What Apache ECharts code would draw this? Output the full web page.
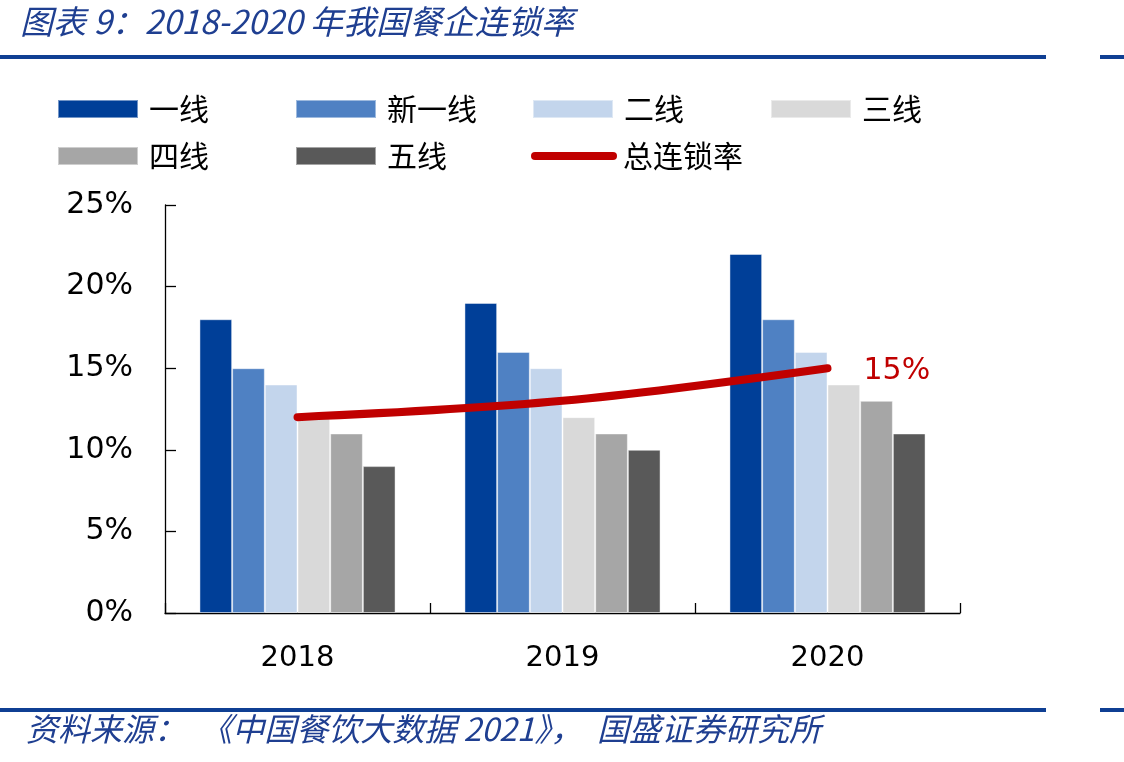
<!DOCTYPE html>
<html>
<head>
<meta charset="utf-8">
<script src="https://cdn.jsdelivr.net/npm/echarts@6/dist/echarts.min.js"></script>
<style>html,body{margin:0;padding:0;background:#fff;}#c{width:1124px;height:762px;}</style>
</head>
<body>
<div id="c"></div>
<script>
const categories = ['2018', '2019', '2020'];
const seriesNames = ['一线', '新一线', '二线', '三线', '四线', '五线'];
const tier1 = [18, 19, 22];
const newTier1 = [15, 16, 18];
const tier2 = [14, 15, 16];
const tier3 = [12, 12, 14];
const tier4 = [11, 11, 13];
const tier5 = [9, 10, 11];
const lineName = '总连锁率';
const chainRate = [12, 13, 15];
const yTicks = [0, 5, 10, 15, 20, 25];

const barColors = ['#003f98', '#4f81c3', '#c3d5ec', '#d9d9d9', '#a6a6a6', '#595959'];
const barData = [tier1, newTier1, tier2, tier3, tier4, tier5];
const lineColor = '#c00000';
const cjk = '"Noto Sans CJK SC", sans-serif';
const num = '"DejaVu Sans", sans-serif';

const chart = echarts.init(document.getElementById('c'), null, {renderer: 'canvas'});

const legendPos = [
  [57, 94], [295, 94], [532, 94], [770, 94],
  [57, 141], [295, 141]
];
const legends = seriesNames.map((n, i) => ({
  data: [n], left: legendPos[i][0], top: legendPos[i][1], padding: 0,
  itemWidth: 80, itemHeight: 18, icon: 'rect',
  textStyle: {fontFamily: cjk, fontSize: 30, lineHeight: 30, color: '#000', padding: [0, 0, 0, 6]}
}));
legends.push({
  data: [lineName], left: 531, top: 141, padding: 0,
  itemWidth: 86, itemHeight: 8,
  icon: 'path://M4,0 L82,0 A4,4 0 0 1 82,8 L4,8 A4,4 0 0 1 4,0 Z',
  textStyle: {fontFamily: cjk, fontSize: 30, lineHeight: 30, color: '#000', padding: [0, 0, 0, 1]}
});

const series = seriesNames.map((n, i) => ({
  name: n, type: 'bar', data: barData[i], barGap: '0%', barCategoryGap: '26%',
  itemStyle: {color: barColors[i], borderColor: 'rgba(255,255,255,0.45)', borderWidth: 1},
  z: 2
}));
series.push({
  name: lineName, type: 'line', data: chainRate,
  smooth: 0.35, symbol: 'none', color: lineColor,
  lineStyle: {color: lineColor, width: 8, cap: 'round', join: 'round'},
  endLabel: {show: true, distance: 36, offset: [0, 3], formatter: '{c}%', color: lineColor, fontFamily: num, fontSize: 30},
  z: 5
});

chart.setOption({
  animation: false,
  backgroundColor: '#fff',
  title: {
    text: '图表 9：2018-2020 年我国餐企连锁率', left: 20, top: 4, padding: 0,
    textStyle: {fontFamily: cjk, fontSize: 33, lineHeight: 35, fontStyle: 'italic', fontWeight: 'normal', color: '#1f3f91'}
  },
  legend: legends,
  grid: {left: 165, right: 164, top: 205, bottom: 149},
  xAxis: {
    type: 'category', data: categories,
    axisLine: {lineStyle: {color: '#000', width: 1.3}},
    axisTick: {show: true, inside: true, length: 10, lineStyle: {color: '#000', width: 1.3}},
    axisLabel: {fontFamily: num, fontSize: 29, color: '#000', margin: 31}
  },
  yAxis: {
    type: 'value', min: yTicks[0], max: yTicks[yTicks.length - 1], interval: 5,
    splitLine: {show: false},
    axisLine: {show: true, lineStyle: {color: '#000', width: 1.3}},
    axisTick: {show: true, inside: true, length: 11, lineStyle: {color: '#000', width: 1.3}},
    axisLabel: {fontFamily: num, fontSize: 30, color: '#000', margin: 32, formatter: '{value}%'}
  },
  series: series,
  graphic: [
    {type: 'rect', shape: {x: 0, y: 55, width: 1046, height: 4}, style: {fill: '#0f3f93'}},
    {type: 'rect', shape: {x: 1100, y: 55, width: 24, height: 4}, style: {fill: '#0f3f93'}},
    {type: 'rect', shape: {x: 0, y: 708, width: 1046, height: 4}, style: {fill: '#0f3f93'}},
    {type: 'rect', shape: {x: 1100, y: 708, width: 24, height: 4}, style: {fill: '#0f3f93'}},
    {type: 'text', left: 26, top: 713, style: {
      text: '资料来源：  《中国餐饮大数据 2021》，  国盛证券研究所',
      font: 'italic 32px "Noto Sans CJK SC", sans-serif', fill: '#1f3f91'
    }}
  ]
});
</script>
</body>
</html>
